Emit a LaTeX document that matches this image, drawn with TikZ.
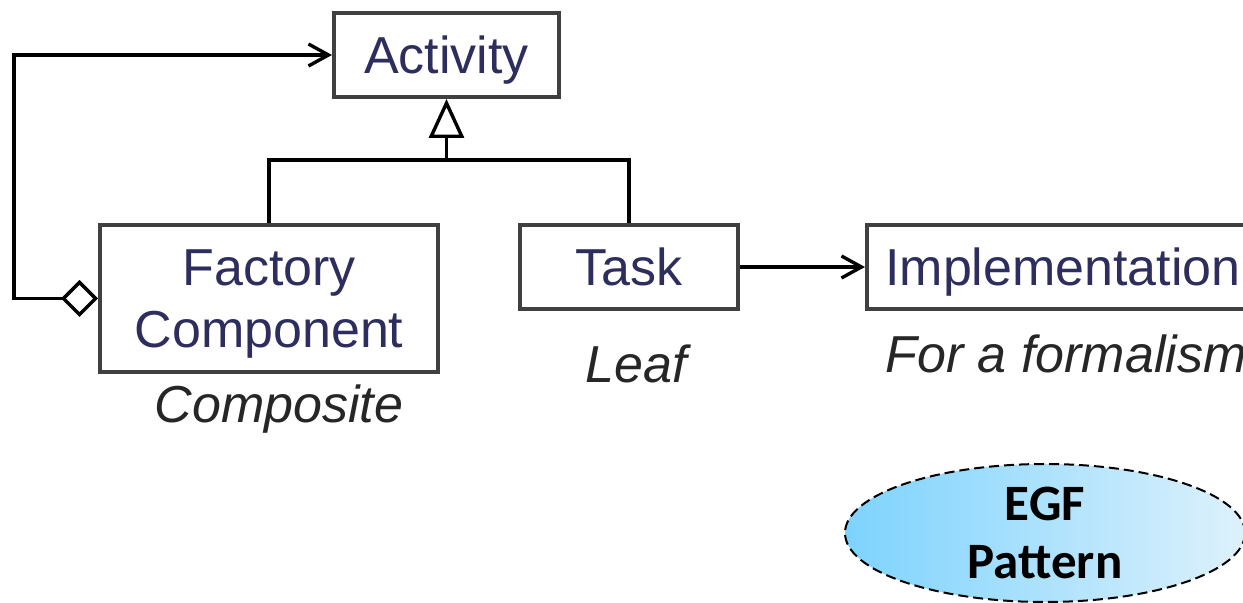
\documentclass[tikz,border=0pt]{standalone}
\usepackage{fontspec}
\setmainfont{Liberation Sans}
\newfontfamily\egffont{Carlito}
\usetikzlibrary{arrows.meta,shapes.geometric}
\definecolor{testoblu}{RGB}{46,46,94}
\definecolor{testogrigio}{RGB}{38,38,38}
\definecolor{celeste}{RGB}{125,211,253}
\definecolor{celestechiaro}{RGB}{222,241,252}
\tikzset{
  classe/.style={draw=black!75, line width=2pt, text=testoblu, align=center,
    font=\fontsize{26}{31.2}\selectfont, inner sep=0pt, text depth=0pt},
  ruolo/.style={text=testogrigio, font=\fontsize{26}{31.2}\selectfont\itshape, inner sep=0pt},
  conn/.style={line width=1.7pt},
  barb/.tip={Straight Barb[length=10pt, width=11pt]},
  rombo/.tip={Diamond[open, length=18.5pt, width=18.5pt]}
}
\begin{document}
\begin{tikzpicture}[x=0.5pt,y=-0.5pt]
    \useasboundingbox (0,0) rectangle (1243,603);
    \clip (0,0) rectangle (1243,603);
    % Classi
    \node[classe, minimum width=112.5pt, minimum height=42pt] (act) at (446.5,55) {Activity};
    \node[classe, minimum width=169pt, minimum height=73.5pt] (fc) at (269,298.5) {Factory\\Component};
    \node[classe, minimum width=109pt, minimum height=42pt] (task) at (629,267) {Task};
    \node[classe, minimum width=196pt, minimum height=42pt] (impl) at (1063,267) {Implementation};
    % Ruoli
    \node[ruolo, anchor=base] (comp) at (279,423) {Composite};
    \node[ruolo, anchor=base] (leaf) at (636,383) {Leaf};
    \node[ruolo, anchor=base west] (form) at (885,373) {For a formalism};
    % Generalizzazione
    \coordinate (gen) at (446.5,160);
    \draw[conn, -{Triangle[open, length=19.5pt, width=17.5pt]}] (gen) -- (act.south);
    \draw[conn] (fc.north) |- (gen) -| (task.north);
    % Aggregazione
    \coordinate (aggr) at (14,298.5);
    \draw[conn, rombo-barb] (fc.west) -- (aggr) |- (act.west);
    \draw[conn, -barb] (task.east) -- (impl.west);
    % Pattern
    \node[ellipse, draw, dash pattern=on 5pt off 2.5pt, line width=1pt,
        left color=celeste, right color=celestechiaro,
        minimum width=200pt, minimum height=69pt, inner sep=0pt, align=center,
        font=\egffont\bfseries\fontsize{25.5}{29}\selectfont] (egf) at (1045,533) {EGF\\Pattern};
\end{tikzpicture}
\end{document}
